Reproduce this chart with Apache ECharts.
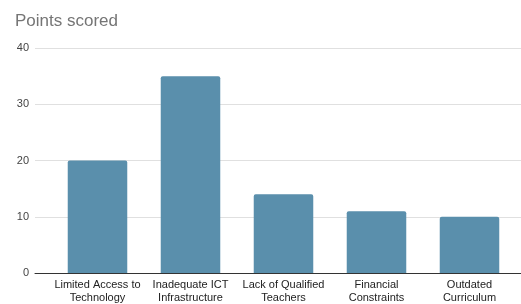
<!DOCTYPE html>
<html>
<head>
<meta charset="utf-8">
<script src="https://cdn.jsdelivr.net/npm/echarts@6/dist/echarts.min.js"></script>
<style>
  html, body { margin: 0; padding: 0; background: #fff; }
</style>
</head>
<body>
<div id="main" style="width: 521px;height:304px;"></div>
<script>
  var categories = ['Limited Access to\nTechnology', 'Inadequate ICT\nInfrastructure', 'Lack of Qualified\nTeachers', 'Financial\nConstraints', 'Outdated\nCurriculum'];
  var points = [20, 35, 14, 11, 10];
  var yTicks = [0, 10, 20, 30, 40];

  var myChart = echarts.init(document.getElementById('main'));
  var font = 'Liberation Sans, Arial, sans-serif';

  var option = {
    animation: false,
    title: {
      text: 'Points scored',
      left: 10,
      top: 8,
      textStyle: { fontFamily: font, fontSize: 17, fontWeight: 'normal', color: '#757575' }
    },
    // grid 0 carries the gridlines and y labels, grid 1 the bars
    grid: [
      { left: 35, right: 0, top: 48, bottom: 31 },
      { left: 51, right: 5, top: 48, bottom: 31 }
    ],
    xAxis: [
      {
        type: 'category', gridIndex: 0, data: categories,
        axisLine: { show: true, lineStyle: { color: '#333', width: 1 } },
        axisTick: { show: false }, axisLabel: { show: false }
      },
      {
        type: 'category', gridIndex: 1, data: categories,
        axisLine: { show: false }, axisTick: { show: false },
        axisLabel: { fontFamily: font, fontSize: 11, color: '#222', lineHeight: 13, margin: 5, interval: 0 }
      }
    ],
    yAxis: [
      {
        type: 'value', gridIndex: 0, min: yTicks[0], max: yTicks[yTicks.length - 1], interval: 10,
        axisLine: { show: false }, axisTick: { show: false },
        axisLabel: { fontFamily: font, fontSize: 11, color: '#444', margin: 6 },
        splitLine: { lineStyle: { color: '#e0e0e0', width: 1 } }
      },
      {
        type: 'value', gridIndex: 1, min: yTicks[0], max: yTicks[yTicks.length - 1], interval: 10,
        show: false, splitLine: { show: false }
      }
    ],
    series: [
      {
        type: 'bar', xAxisIndex: 1, yAxisIndex: 1,
        data: points,
        barCategoryGap: '36%',
        itemStyle: { color: '#5a8fac', borderRadius: [2, 2, 0, 0] }
      }
    ]
  };
  myChart.setOption(option);
</script>
</body>
</html>
